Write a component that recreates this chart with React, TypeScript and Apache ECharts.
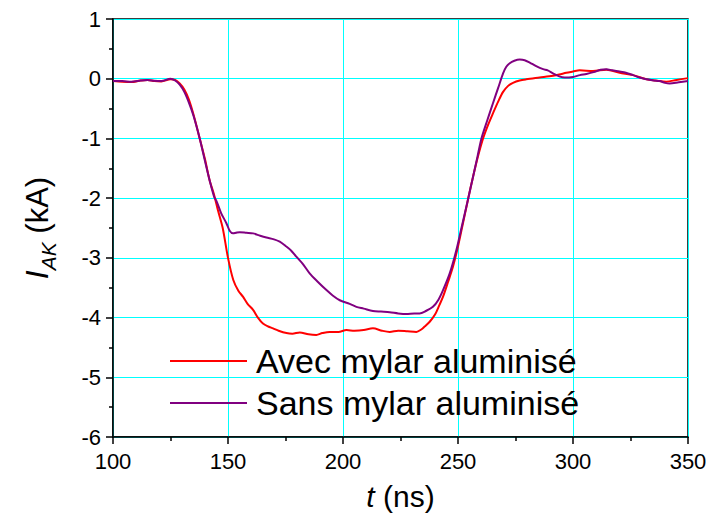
import React, { useEffect, useRef } from "react";
import * as echarts from "echarts";

const avecT = [100,104,108,112,115,118,121,125,127,129,131,133,135,137.7,140,142,144,145.6,147.7,150,152.3,154.5,156.5,158.5,160.9,163,165.2,167.5,169.6,172,175.4,178,181.2,185,188.4,191,194.2,198,201.5,205,209,213,217,220.3,224,228,231.9,234,235.5,237.7,240,241.8,243.5,245.7,247.8,250,252,254.3,256.5,258.7,260.9,263,265.2,267.5,269.6,271.8,273.9,276.8,279.7,285.5,291.3,294,297.1,300,302.9,308.7,314.5,320.3,326.1,332,336,340.6,345,350];
const avecI = [-0.04,-0.05,-0.055,-0.03,-0.02,-0.04,-0.045,-0.01,-0.02,-0.08,-0.18,-0.35,-0.6,-1.0,-1.35,-1.7,-1.95,-2.2,-2.5,-3.0,-3.37,-3.55,-3.65,-3.77,-3.87,-4.0,-4.1,-4.15,-4.18,-4.22,-4.26,-4.27,-4.25,-4.28,-4.29,-4.26,-4.24,-4.24,-4.21,-4.22,-4.21,-4.18,-4.22,-4.24,-4.22,-4.23,-4.24,-4.2,-4.15,-4.07,-3.95,-3.8,-3.65,-3.4,-3.15,-2.81,-2.45,-2.03,-1.65,-1.3,-1.0,-0.78,-0.58,-0.38,-0.22,-0.12,-0.07,-0.03,-0.01,0.02,0.05,0.07,0.1,0.12,0.14,0.13,0.15,0.1,0.06,-0.01,-0.03,-0.05,-0.02,0.01];

const sansT = [100,104,108,112,115,118,121,125,127,129,131,133,135,137.7,140,142,144,145,147,149.3,150.8,152.2,153.5,155.1,158,160.9,164,166.7,170,172.5,175,177.5,179.7,182.5,185.5,189,192.8,195.5,198.6,202.9,205.8,209,213,216.5,220.3,224,227.6,231,233.3,236,239.1,241.5,243.5,246.4,249.3,251.5,254.3,256.5,258.5,260.2,262.7,265.2,267.5,269.6,271,272.5,274.5,276.8,279,281.2,284,287,289,291.3,294,296.4,300,303,305.8,309,312,314.5,317,320.3,323,326.1,329,331.9,335,337.7,340,342,346,350];
const sansI = [-0.04,-0.04,-0.05,-0.03,-0.02,-0.035,-0.04,0.0,-0.03,-0.1,-0.22,-0.4,-0.62,-1.0,-1.38,-1.7,-1.98,-2.05,-2.25,-2.42,-2.55,-2.59,-2.58,-2.57,-2.58,-2.59,-2.63,-2.66,-2.69,-2.73,-2.8,-2.88,-2.98,-3.1,-3.26,-3.4,-3.54,-3.63,-3.71,-3.77,-3.82,-3.85,-3.89,-3.9,-3.91,-3.93,-3.94,-3.93,-3.93,-3.89,-3.82,-3.7,-3.54,-3.26,-2.87,-2.5,-2.03,-1.65,-1.3,-1.0,-0.7,-0.41,-0.15,0.09,0.2,0.26,0.3,0.32,0.31,0.27,0.21,0.16,0.14,0.09,0.04,0.02,0.03,0.06,0.08,0.11,0.15,0.16,0.14,0.12,0.1,0.06,0.02,-0.01,-0.03,-0.04,-0.07,-0.08,-0.06,-0.04];

const seriesNames = ["Avec mylar aluminisé", "Sans mylar aluminisé"];
const seriesColors = ["#ff0000", "#800080"];

const FONT = "'Liberation Sans', Arial, sans-serif";

export default function App() {
  const ref = useRef<HTMLDivElement>(null);
  useEffect(() => {
    if (!ref.current) return;
    const chart = echarts.init(ref.current, null, { renderer: "svg" });
    const pairs = (t: number[], v: number[]) => t.map((x, i) => [x, v[i]]);
    chart.setOption({
      animation: false,
      backgroundColor: "#ffffff",
      textStyle: { fontFamily: FONT },
      grid: {
        left: 113,
        right: 22,
        top: 19,
        bottom: 90,
        show: true,
        borderColor: "#000",
        borderWidth: 1.5,
        backgroundColor: "transparent",
      },
      legend: {
        orient: "vertical",
        left: 170,
        top: 344,
        padding: 0,
        icon: "rect",
        itemWidth: 77,
        itemHeight: 2,
        itemGap: 8,
        data: seriesNames,
        textStyle: {
          fontFamily: FONT,
          fontSize: 34,
          color: "#000",
          lineHeight: 34,
          padding: [0, 0, 0, 4],
        },
      },
      xAxis: {
        type: "value",
        min: 100,
        max: 350,
        interval: 50,
        name: "{i|t}{n| (ns)}",
        nameLocation: "middle",
        nameGap: 44,
        nameTextStyle: {
          rich: {
            i: { fontSize: 30, fontStyle: "italic", fontFamily: FONT, color: "#000" },
            n: { fontSize: 30, fontFamily: FONT, color: "#000" },
          },
        },
        axisLine: { show: true, onZero: false, lineStyle: { color: "#000", width: 1.5 } },
        axisTick: { show: true, inside: false, length: 7, lineStyle: { color: "#000", width: 1.5 } },
        minorTick: { show: true, splitNumber: 2, length: 4, lineStyle: { color: "#000", width: 1.5 } },
        axisLabel: { fontSize: 22, color: "#000", margin: 13, fontFamily: FONT },
        splitLine: { show: true, lineStyle: { color: "#00ffff", width: 1 } },
      },
      yAxis: {
        type: "value",
        min: -6,
        max: 1,
        interval: 1,
        name: "{i|I}{s|AK}{n| (kA)}",
        nameLocation: "middle",
        nameGap: 60,
        nameTextStyle: {
          rich: {
            i: { fontSize: 32, fontStyle: "italic", fontFamily: FONT, color: "#000", verticalAlign: "bottom" },
            s: { fontSize: 21, fontStyle: "italic", fontFamily: FONT, color: "#000", verticalAlign: "bottom", padding: [0, 0, -6, 0] },
            n: { fontSize: 31, fontFamily: FONT, color: "#000", verticalAlign: "bottom" },
          },
        },
        axisLine: { show: true, onZero: false, lineStyle: { color: "#000", width: 1.5 } },
        axisTick: { show: true, inside: false, length: 7, lineStyle: { color: "#000", width: 1.5 } },
        minorTick: { show: true, splitNumber: 2, length: 4, lineStyle: { color: "#000", width: 1.5 } },
        axisLabel: { fontSize: 22, color: "#000", margin: 12, fontFamily: FONT },
        splitLine: { show: true, lineStyle: { color: "#00ffff", width: 1 } },
      },
      series: [
        {
          name: seriesNames[0],
          type: "line",
          data: pairs(avecT, avecI),
          showSymbol: false,
          symbol: "none",
          smooth: 0.3,
          color: seriesColors[0],
          lineStyle: { color: seriesColors[0], width: 2 },
        },
        {
          name: seriesNames[1],
          type: "line",
          data: pairs(sansT, sansI),
          showSymbol: false,
          symbol: "none",
          smooth: 0.3,
          color: seriesColors[1],
          lineStyle: { color: seriesColors[1], width: 2 },
        },
      ],
    });
    return () => chart.dispose();
  }, []);
  return <div ref={ref} style={{ width: 710, height: 527, position: "absolute", left: 0, top: 0 }} />;
}
